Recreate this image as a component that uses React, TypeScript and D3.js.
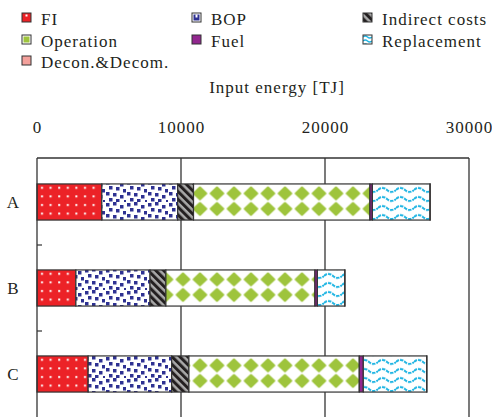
import React from "react";
import * as d3 from "d3";

const categories = ["A", "B", "C"];
const seriesNames = ["FI", "BOP", "Indirect costs", "Operation", "Fuel", "Replacement", "Decon.&Decom."];
const fiValues = [4500, 2700, 3550];
const bopValues = [5270, 5150, 5800];
const indirectValues = [1100, 1100, 1200];
const operationValues = [12250, 10350, 11830];
const fuelValues = [170, 170, 280];
const replacementValues = [4000, 1900, 4400];
const deconValues = [20, 20, 20];
const xTicks = [0, 10000, 20000, 30000];
const xTitle = "Input energy [TJ]";

const seriesValues = [fiValues, bopValues, indirectValues, operationValues, fuelValues, replacementValues, deconValues];

const W = 492;
const H = 417;
const plotLeft = 37;
const plotRight = 469;
const plotTop = 158;
const plotBottom = 417;
const FONT = "Liberation Serif, Times New Roman, DejaVu Serif, serif";
const STROKE = "#333";
const LS = 1;

const RED = "#ec2227";
const NAVY = "#2e3192";
const GREEN = "#9ec43c";
const PURPLE = "#92278f";
const CYAN = "#1fb5e3";
const PINK = "#f4a19c";

export default function App() {
  const x = d3.scaleLinear().domain([0, 30000]).range([plotLeft, plotRight]);
  const y = d3
    .scaleBand<string>()
    .domain(categories)
    .range([plotTop + 1, plotTop + 1 + 86 * 3])
    .paddingInner(0.58)
    .paddingOuter(0.29);
  const bw = y.bandwidth();

  const rows = categories.map((c, i) => {
    const o: any = { cat: c };
    seriesNames.forEach((s, j) => (o[s] = seriesValues[j][i]));
    return o;
  });
  const stacked = d3.stack<any>().keys(seriesNames)(rows);

  const bopSquares = [
    [1, 1], [8, 0], [15, 3], [4, 6], [11, 7], [18, 9], [1, 12], [8, 13], [15, 15], [4, 18], [11, 19], [19, 20],
  ];

  const fillFor = (s: string, ci: number) => {
    switch (s) {
      case "FI":
        return "url(#pFI)";
      case "BOP":
        return "url(#pBOP)";
      case "Indirect costs":
        return "url(#pInd)";
      case "Operation":
        return `url(#pOp${ci})`;
      case "Fuel":
        return PURPLE;
      case "Replacement":
        return `url(#pRep${ci})`;
      default:
        return PINK;
    }
  };

  const legendCols = [22, 192, 363];
  const legendRows = [25, 47, 68];

  const bandBoundaries = categories.slice(1).map((c) => (y(c) as number) - (y.step() - bw) / 2);

  return (
    <svg
      width={W}
      height={H}
      style={{ position: "absolute", left: 0, top: 0, background: "#fff", fontFamily: FONT }}
    >
      <defs>
        <pattern id="pFI" patternUnits="userSpaceOnUse" width={8.6} height={8.6} x={plotLeft} y={plotTop}>
          <rect width={8.6} height={8.6} fill={RED} />
          <rect x={4} y={3} width={2} height={2} fill="#fff" />
        </pattern>
        <pattern id="pBOP" patternUnits="userSpaceOnUse" width={21} height={22} x={0} y={plotTop}>
          <rect width={21} height={22} fill="#fff" />
          {bopSquares.map(([a, b], i) => (
            <rect key={i} x={a} y={b} width={3.5} height={3.5} fill={NAVY} />
          ))}
        </pattern>
        <pattern id="pInd" patternUnits="userSpaceOnUse" width={5.5} height={5.5} patternTransform="rotate(-45)">
          <rect width={5.5} height={5.5} fill="#aaa" />
          <rect width={3} height={5.5} fill="#231f20" />
        </pattern>
        {categories.map((c, ci) => {
          const top = y(c) as number;
          return (
            <React.Fragment key={c}>
              <pattern id={`pOp${ci}`} patternUnits="userSpaceOnUse" width={17} height={bw} x={191.5} y={top}>
                <rect width={17} height={bw} fill="#fff" />
                {[9.5, 25].map((cy) => (
                  <path
                    key={cy}
                    d={`M8.5,${cy - 6} L14.8,${cy} L8.5,${cy + 6} L2.2,${cy} Z`}
                    fill={GREEN}
                    stroke={GREEN}
                    strokeWidth={2}
                    strokeLinejoin="round"
                  />
                ))}
              </pattern>
              <pattern id={`pRep${ci}`} patternUnits="userSpaceOnUse" width={18} height={bw / 4} x={0} y={top + 1.5}>
                <rect width={18} height={bw / 4} fill="#fff" />
                <path
                  d={`M0,4.5 Q4.5,0.5 9,4.5 T18,4.5`}
                  fill="none"
                  stroke={CYAN}
                  strokeWidth={2}
                  strokeDasharray="3.5 1"
                />
              </pattern>
            </React.Fragment>
          );
        })}
        <pattern id="pRepL" patternUnits="userSpaceOnUse" width={9} height={4} x={363} y={35}>
          <rect width={9} height={4} fill="#fff" />
          <path d="M0,2 Q2.25,0 4.5,2 T9,2" fill="none" stroke={CYAN} strokeWidth={1.4} />
        </pattern>
      </defs>

      {/* legend */}
      {seriesNames.map((s, i) => {
        const col = legendCols[i % 3];
        const row = legendRows[Math.floor(i / 3)];
        const sx = col;
        const sy = row - 12;
        let swatch: React.ReactNode;
        if (s === "FI") {
          swatch = (
            <g>
              <rect x={sx} y={sy} width={9} height={9} fill={RED} stroke={STROKE} strokeWidth={1} />
              <rect x={sx + 3.5} y={sy + 1.5} width={2} height={2} fill="#fff" />
            </g>
          );
        } else if (s === "BOP") {
          swatch = (
            <g>
              <rect x={sx} y={sy} width={9} height={9} fill="#fff" stroke={STROKE} strokeWidth={1} />
              <rect x={sx + 1.5} y={sy + 1.5} width={6} height={6} fill={NAVY} />
              <rect x={sx + 3.5} y={sy + 1.5} width={2} height={3} fill="#fff" />
            </g>
          );
        } else if (s === "Indirect costs") {
          swatch = <rect x={sx} y={sy} width={9} height={9} fill="url(#pInd)" stroke={STROKE} strokeWidth={1} />;
        } else if (s === "Operation") {
          swatch = (
            <g>
              <rect x={sx} y={sy} width={9} height={9} fill="#fff" stroke={STROKE} strokeWidth={1} />
              <rect x={sx + 1.5} y={sy + 1.5} width={6} height={6} fill={GREEN} />
            </g>
          );
        } else if (s === "Fuel") {
          swatch = <rect x={sx} y={sy} width={9} height={9} fill={PURPLE} stroke={STROKE} strokeWidth={1} />;
        } else if (s === "Replacement") {
          swatch = <rect x={sx} y={sy} width={9} height={9} fill="url(#pRepL)" stroke={STROKE} strokeWidth={1} />;
        } else {
          swatch = <rect x={sx} y={sy} width={9} height={9} fill={PINK} stroke={STROKE} strokeWidth={1} />;
        }
        return (
          <g key={s}>
            {swatch}
            <text x={col + 19} y={row} fontSize={17} letterSpacing={LS} fill="#231f20">
              {s}
            </text>
          </g>
        );
      })}

      {/* axis title */}
      <text x={277} y={93} fontSize={17} letterSpacing={LS} textAnchor="middle" fill="#231f20">
        {xTitle}
      </text>
      {xTicks.map((t) => (
        <text key={t} x={x(t) + 0.5} y={133} fontSize={17} letterSpacing={LS} textAnchor="middle" fill="#231f20">
          {t}
        </text>
      ))}

      {/* gridlines */}
      {xTicks.slice(1, -1).map((t) => (
        <line key={t} x1={x(t)} x2={x(t)} y1={plotTop} y2={plotBottom} stroke={STROKE} strokeWidth={1.3} />
      ))}

      {/* bars */}
      {stacked.map((layer) =>
        layer.map((d, ci) => {
          const x0 = x(d[0]);
          const x1 = x(d[1]);
          return (
            <rect
              key={layer.key + ci}
              x={x0}
              y={y(categories[ci]) as number}
              width={Math.max(0, x1 - x0)}
              height={bw}
              fill={fillFor(layer.key, ci)}
              stroke={STROKE}
              strokeWidth={1.2}
            />
          );
        })
      )}

      {/* frame */}
      <line x1={plotLeft} x2={plotRight} y1={plotTop} y2={plotTop} stroke={STROKE} strokeWidth={1.3} />
      <line x1={plotLeft} x2={plotLeft} y1={plotTop} y2={plotBottom} stroke={STROKE} strokeWidth={1.3} />
      <line x1={plotRight} x2={plotRight} y1={plotTop} y2={plotBottom} stroke={STROKE} strokeWidth={1.3} />
      {bandBoundaries.map((b, i) => (
        <line key={i} x1={plotLeft} x2={plotLeft + 5} y1={b} y2={b} stroke={STROKE} strokeWidth={1.2} />
      ))}

      {/* category labels */}
      {categories.map((c) => (
        <text
          key={c}
          x={13}
          y={(y(c) as number) + bw / 2 + 6}
          fontSize={17}
          textAnchor="middle"
          fill="#231f20"
        >
          {c}
        </text>
      ))}
    </svg>
  );
}
